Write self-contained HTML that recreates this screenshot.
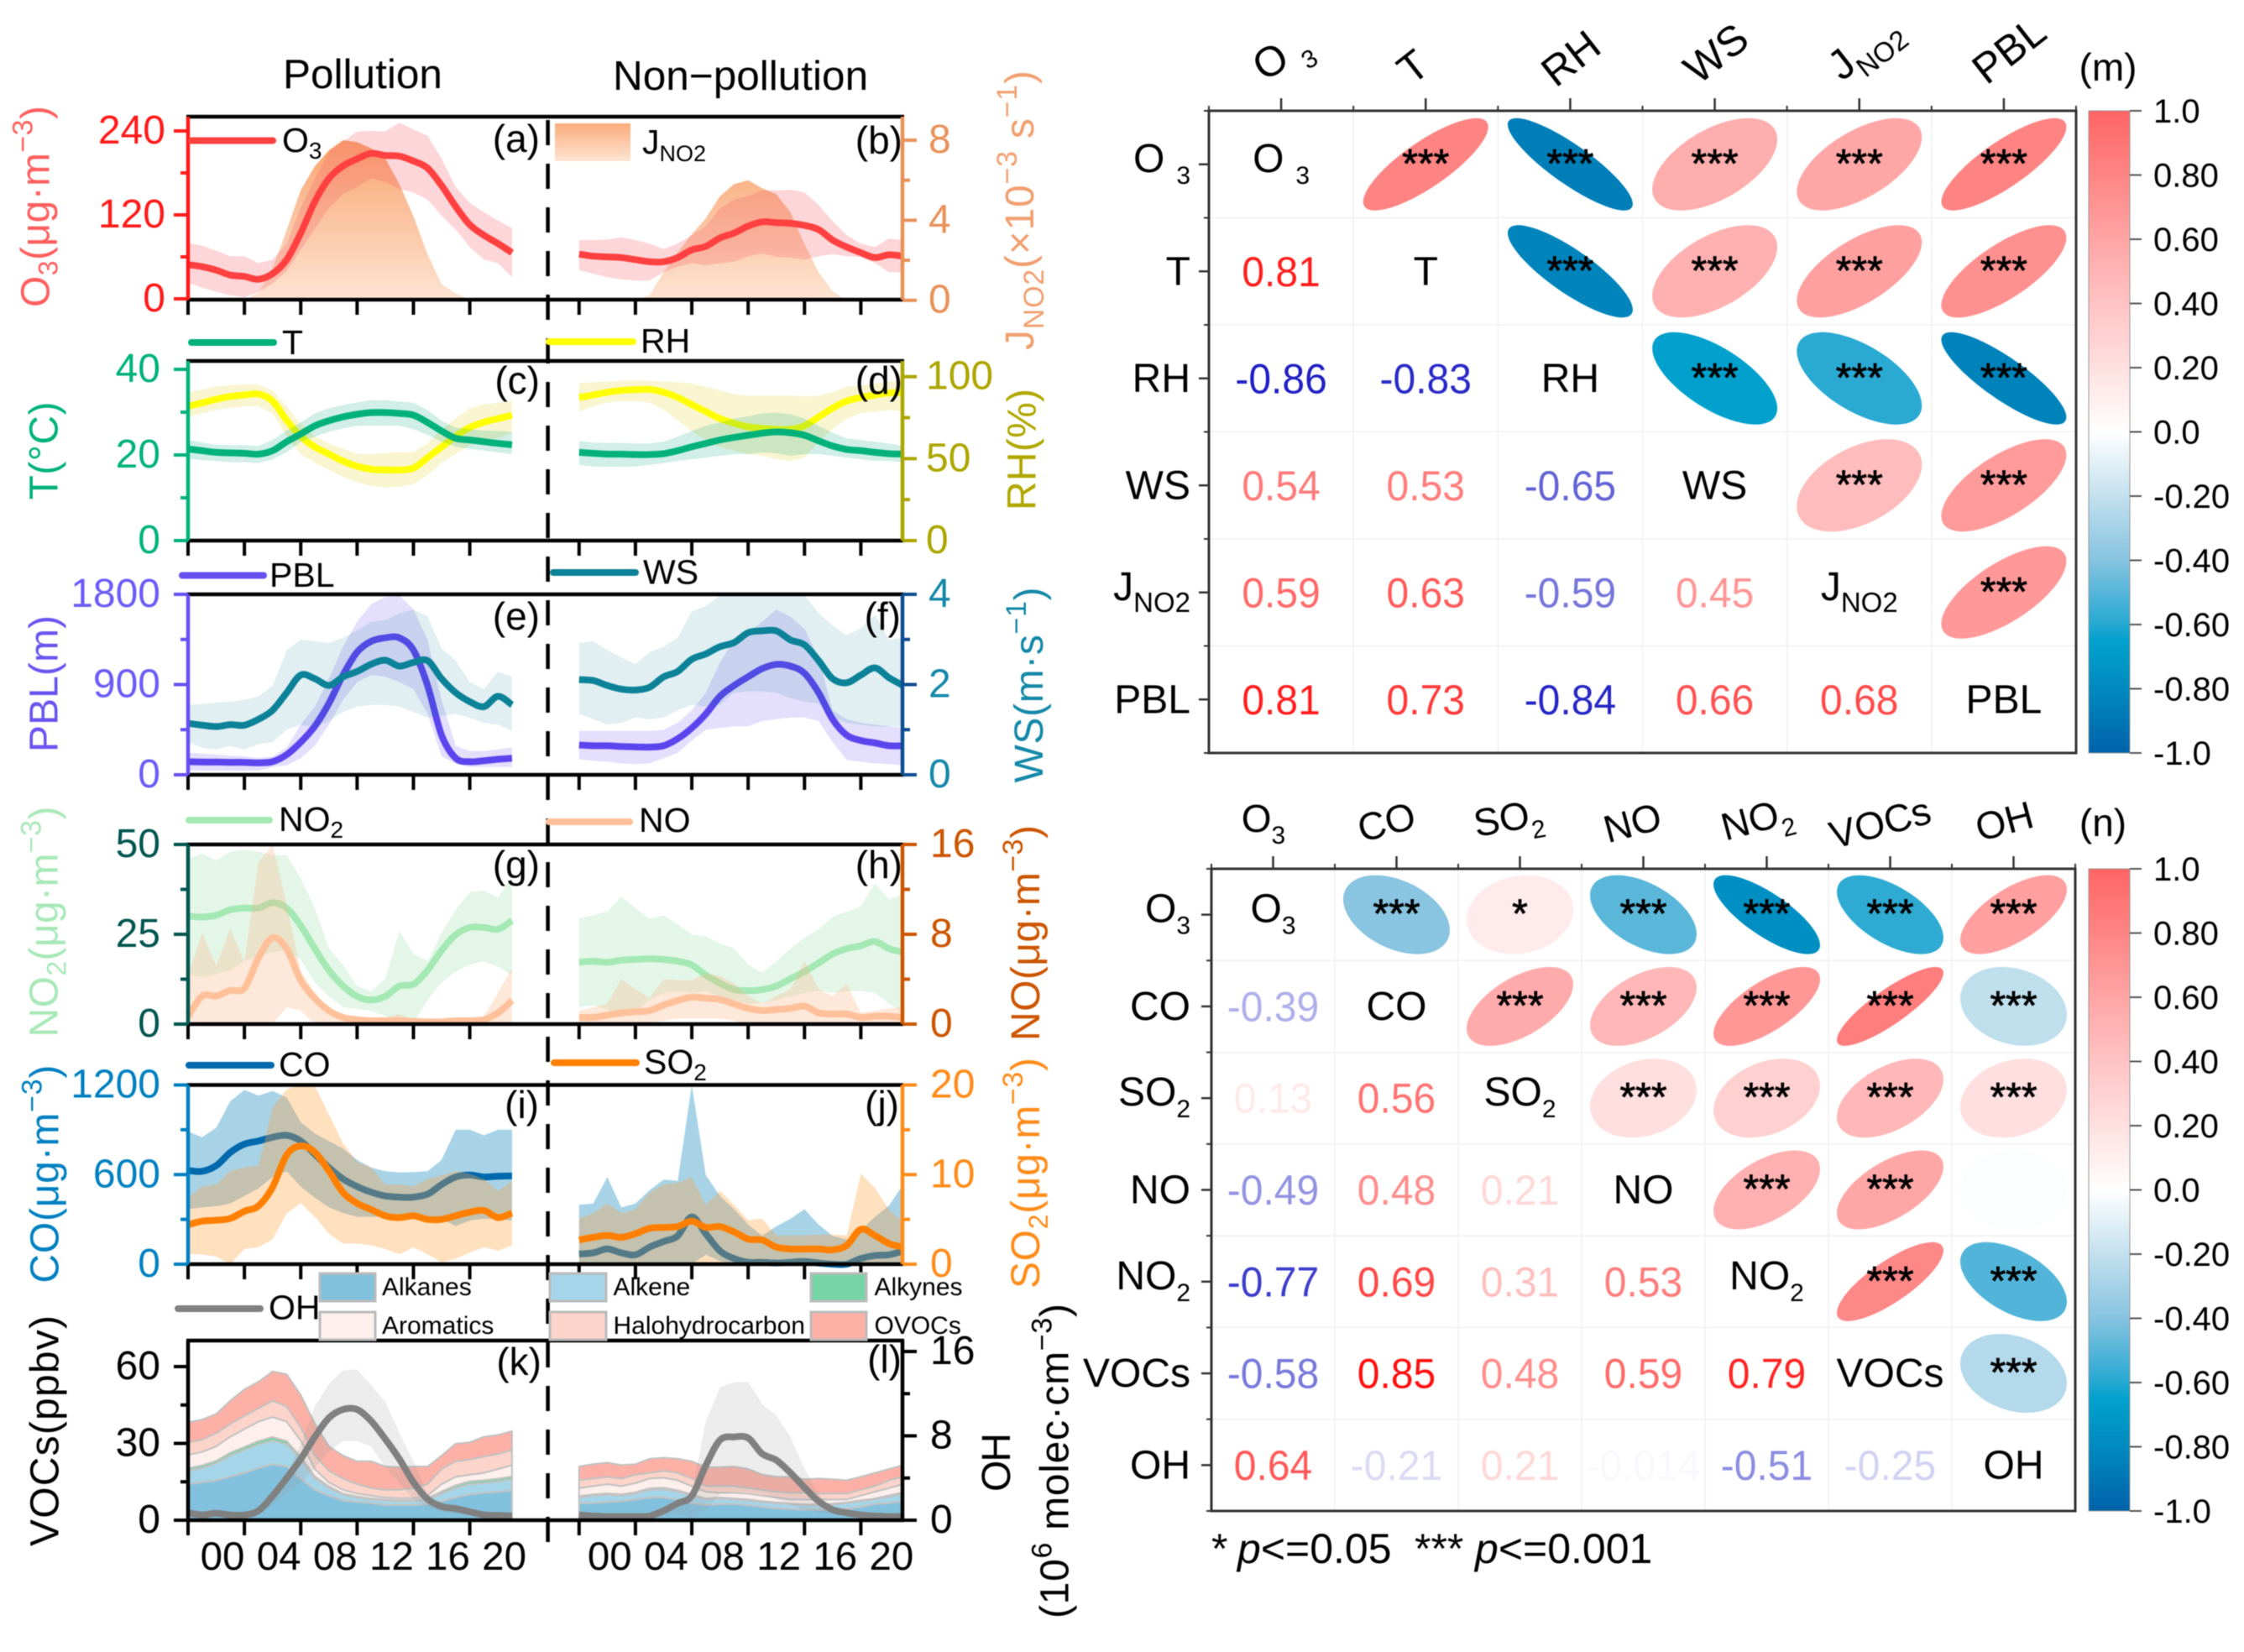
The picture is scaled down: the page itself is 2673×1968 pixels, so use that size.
<!DOCTYPE html>
<html lang="en">
<head>
<meta charset="utf-8">
<title>Pollution vs non-pollution diurnal profiles and correlation matrices</title>
<style>
html,body{margin:0;padding:0;background:#fff;}
svg{display:block;filter:blur(.6px);font-family:"Liberation Sans",sans-serif;}
</style>
</head>
<body>
<svg id="figure" xmlns="http://www.w3.org/2000/svg" width="2673" height="1968" viewBox="0 0 2673 1968">
<defs>
<linearGradient id="jSwatchGrad" x1="0" y1="0" x2="0" y2="1"><stop offset="0" stop-color="#fbad7c"/><stop offset="1" stop-color="#fde4d3"/></linearGradient>
<linearGradient id="jGradA" gradientUnits="userSpaceOnUse" x1="0" y1="150" x2="0" y2="357"><stop offset="0" stop-color="#f99f66"/><stop offset="1" stop-color="#fde4d3"/></linearGradient>
<linearGradient id="cbarGrad" x1="0" y1="0" x2="0" y2="1"></linearGradient>
</defs>
<rect x="0" y="0" width="2673" height="1968" fill="#fff"/>
<g id="marks"></g>
<g id="corr"></g>

<g font-size="49.5" fill="#000">
<text x="337" y="105">Pollution</text>
<text x="730" y="107">Non−pollution</text>
</g>

<line x1="652.6" y1="143" x2="652.6" y2="1849" stroke="#000" stroke-width="4.5" stroke-dasharray="30 22"/>

<g font-size="46" fill="#000" text-anchor="end">
<text x="643" y="181">(a)</text>
<text x="1075" y="183">(b)</text>
<text x="643" y="469">(c)</text>
<text x="1075" y="469">(d)</text>
<text x="643" y="750">(e)</text>
<text x="1073" y="750">(f)</text>
<text x="643" y="1046">(g)</text>
<text x="1075" y="1046">(h)</text>
<text x="642" y="1332">(i)</text>
<text x="1071" y="1332">(j)</text>
<text x="645" y="1638">(k)</text>
<text x="1074" y="1635">(l)</text>
</g>

<g stroke-linecap="round" stroke-width="8" font-size="41" fill="#000">
<line x1="228" y1="167.5" x2="325" y2="167.5" stroke="#ff4040"/>
<text x="336" y="181" stroke="none">O<tspan font-size="28" dy="8">3</tspan></text>
<rect x="661" y="147" width="90" height="45" fill="url(#jSwatchGrad)" stroke="none"/>
<text x="765" y="183" stroke="none">J<tspan font-size="27" dy="9">NO2</tspan></text>
<line x1="228" y1="408" x2="326" y2="408" stroke="#00b27a"/>
<text x="336" y="422" stroke="none">T</text>
<line x1="654" y1="407" x2="754" y2="407" stroke="#ffff00"/>
<text x="763" y="420" stroke="none">RH</text>
<line x1="217" y1="685.5" x2="314" y2="685.5" stroke="#6650f0"/>
<text x="321" y="699" stroke="none">PBL</text>
<line x1="659" y1="682" x2="757" y2="682" stroke="#0b8298"/>
<text x="766" y="695.5" stroke="none">WS</text>
<line x1="225" y1="977" x2="321" y2="977" stroke="#a4e8b4"/>
<text x="332" y="990" stroke="none">NO<tspan font-size="28" dy="8">2</tspan></text>
<line x1="654" y1="979" x2="750" y2="979" stroke="#ffc09a"/>
<text x="761" y="991" stroke="none">NO</text>
<line x1="225" y1="1269" x2="323" y2="1269" stroke="#0068ac"/>
<text x="332" y="1282" stroke="none">CO</text>
<line x1="660" y1="1266" x2="758" y2="1266" stroke="#ff8000"/>
<text x="767" y="1279" stroke="none">SO<tspan font-size="28" dy="8">2</tspan></text>
<line x1="212" y1="1559" x2="310" y2="1559" stroke="#808080"/>
<text x="320" y="1571.5" stroke="none">OH</text>
</g>

<g font-size="30" fill="#000" stroke="none">
<rect x="381" y="1517" width="66" height="33" fill="#82c1de" stroke="#bbb" stroke-width="3"/>
<text x="455" y="1543">Alkanes</text>
<rect x="381" y="1563" width="66" height="33" fill="#fdf0ec" stroke="#bbb" stroke-width="3"/>
<text x="455" y="1589">Aromatics</text>
<rect x="655" y="1517" width="67" height="33" fill="#a5d5e9" stroke="#bbb" stroke-width="3"/>
<text x="730.5" y="1543">Alkene</text>
<rect x="655" y="1563" width="67" height="33" fill="#fdd4ca" stroke="#bbb" stroke-width="3"/>
<text x="730.5" y="1589">Halohydrocarbon</text>
<rect x="966" y="1517" width="66" height="33" fill="#77d4a4" stroke="#bbb" stroke-width="3"/>
<text x="1041.5" y="1543">Alkynes</text>
<rect x="966" y="1563" width="66" height="33" fill="#fdb0a5" stroke="#bbb" stroke-width="3"/>
<text x="1041.5" y="1589">OVOCs</text>
</g>

<g font-size="48">
<text transform="translate(58.5,366) rotate(-90)" fill="#ff5f5f" textLength="240" lengthAdjust="spacing">O<tspan font-size="32" dy="10">3</tspan><tspan dy="-10">(μg·m</tspan><tspan font-size="34" dy="-20">−3</tspan><tspan dy="20">)</tspan></text>
<text transform="translate(1231,417) rotate(-90)" fill="#f0a070" textLength="333" lengthAdjust="spacing">J<tspan font-size="34" dy="12">NO2</tspan><tspan dy="-12">(×10</tspan><tspan font-size="34" dy="-20">−3</tspan><tspan dy="20"> s</tspan><tspan font-size="34" dy="-20">−1</tspan><tspan dy="20">)</tspan></text>
<text transform="translate(68.5,595.5) rotate(-90)" fill="#00b27a" textLength="117" lengthAdjust="spacing">T(°C)</text>
<text transform="translate(1233.6,608) rotate(-90)" fill="#b0a800" textLength="145" lengthAdjust="spacing">RH(%)</text>
<text transform="translate(68.5,896) rotate(-90)" fill="#6a55f0" textLength="163" lengthAdjust="spacing">PBL(m)</text>
<text transform="translate(1242,932.5) rotate(-90)" fill="#1488a8" textLength="233" lengthAdjust="spacing">WS(m·s<tspan font-size="34" dy="-20">−1</tspan><tspan dy="20">)</tspan></text>
<text transform="translate(68.5,1235.5) rotate(-90)" fill="#a8e8b8" textLength="275" lengthAdjust="spacing">NO<tspan font-size="32" dy="10">2</tspan><tspan dy="-10">(μg·m</tspan><tspan font-size="34" dy="-20">−3</tspan><tspan dy="20">)</tspan></text>
<text transform="translate(1238,1240) rotate(-90)" fill="#cc5500" textLength="257" lengthAdjust="spacing">NO(μg·m<tspan font-size="34" dy="-20">−3</tspan><tspan dy="20">)</tspan></text>
<text transform="translate(69.4,1528.6) rotate(-90)" fill="#0080c0" textLength="260" lengthAdjust="spacing">CO(μg·m<tspan font-size="34" dy="-20">−3</tspan><tspan dy="20">)</tspan></text>
<text transform="translate(1238,1535) rotate(-90)" fill="#ff8c1a" textLength="275" lengthAdjust="spacing">SO<tspan font-size="32" dy="10">2</tspan><tspan dy="-10">(μg·m</tspan><tspan font-size="34" dy="-20">−3</tspan><tspan dy="20">)</tspan></text>
<text transform="translate(69.4,1842) rotate(-90)" fill="#000" textLength="275" lengthAdjust="spacing">VOCs(ppbv)</text>
<text transform="translate(1203,1777) rotate(-90)" fill="#000" textLength="70" lengthAdjust="spacing">OH</text>
<text transform="translate(1272.6,1928) rotate(-90)" fill="#000" textLength="375" lengthAdjust="spacing">(10<tspan font-size="34" dy="-20">6</tspan><tspan dy="20"> molec·cm</tspan><tspan font-size="34" dy="-20">−3</tspan><tspan dy="20">)</tspan></text>
</g>

<g font-size="46" fill="#000">
<text x="2511" y="96" text-anchor="middle">(m)</text>
<text x="2505" y="996" text-anchor="middle">(n)</text>
<text x="1443" y="1862" font-size="50">*</text>
<text x="1474" y="1862" font-size="50"><tspan font-style="italic">p</tspan>&lt;=0.05</text>
<text x="1685" y="1862" font-size="50">***</text>
<text x="1757" y="1862" font-size="50"><tspan font-style="italic">p</tspan>&lt;=0.001</text>
</g>
</svg>

<script>
// ---------- shared axis data ----------
const hours = [0,1,2,3,4,5,6,7,8,9,10,11,12,13,14,15,16,17,18,19,20,21,22,23];
const hourTicks = [0,4,8,12,16,20];
const hourTickLabels = ['00','04','08','12','16','20'];

const o3Ticks = [0,120,240];
const jTicks = [0,4,8];
const tTicks = [0,20,40];
const rhTicks = [0,50,100];
const pblTicks = [0,900,1800];
const wsTicks = [0,2,4];
const no2Ticks = [0,25,50];
const noTicks = [0,8,16];
const coTicks = [0,600,1200];
const so2Ticks = [0,10,20];
const vocTicks = [0,30,60];
const ohTicks = [0,8,16];

// ---------- (a) / (b) ----------
const o3Pol = [49,46,41,34,32,28,36,56,94,139,172,190,200,208,205,204,197,187,162,132,106,91,79,66];
const o3PolHigh = [80,76,69,61,61,51,56,79,130,172,210,225,239,240,239,252,242,233,200,160,137,124,112,101];
const o3PolLow = [23,16,10,5,2,10,22,40,70,100,130,150,160,172,167,157,152,142,119,99,74,56,51,31];
const jPol = [0,0,0,0,0,0.4,1.6,3.5,5.5,6.7,7.5,8,7.9,7.6,7.1,5.8,4.2,2.3,0.8,0.35,0,0,0,0];
const o3Non = [64,61,60,59,56,53,53,59,70,75,87,94,104,110,109,108,105,99,84,74,66,59,63,61];
const o3NonHigh = [84,84,85,88,84,79,71,79,91,104,129,142,147,155,155,156,152,134,111,91,79,74,86,84];
const o3NonLow = [41,36,31,28,26,26,38,46,51,48,51,53,61,65,60,59,56,61,64,61,60,51,38,38];
const jNon = [0,0,0,0,0,0.25,1.4,2.4,3.3,4.1,5.2,5.8,6,5.6,5.3,4.4,2.8,1.4,0.45,0,0,0,0,0];

// ---------- (c) / (d) ----------
const tPol = [21.4,21,20.6,20.5,20.4,20.2,21,23.1,24.9,26.8,28,28.9,29.5,29.9,29.9,29.7,29.3,27.6,25.6,23.9,23.5,23.1,22.7,22.4];
const tPolHigh = [23.5,22.9,22.4,22.3,22.3,22.1,23.5,25.7,27.6,29.7,30.9,31.7,32.3,32.8,32.8,32.5,32.2,30.5,28,26.4,26,25.7,25.6,25.4];
const tPolLow = [19.1,18.8,18.6,18.3,18.3,18.1,19,20.6,23.1,24.3,25.4,26.2,26.8,26.8,26.8,26.8,26,24.7,23.1,21.9,21.4,21,20.6,20.2];
const rhPol = [81.9,84,86.2,87.9,88.8,89.4,85.1,73.3,63.6,57.1,52.8,48.5,45.3,43.5,43.1,43.1,44.2,50.6,57.1,63.6,69,72.2,74.4,76.5];
const rhPolHigh = [90.5,92.2,93.8,94.8,95.3,95.3,91.6,81.9,71.1,63.6,59.3,56,52.8,52.8,53.4,53.9,53.9,59.3,67.9,74.4,80.8,83,84,85.1];
const rhPolLow = [75.4,77.6,79.7,80.8,81.9,81.9,77.6,63.6,52.8,47.4,43.1,38.8,35.6,33.4,32.3,32.8,34.5,39.9,47.4,52.8,58.2,60.3,62.5,65.7];
const tNon = [20.6,20.4,20.2,20.2,20.1,20.1,20.3,21,21.9,22.7,23.5,24.1,24.6,25.1,25.4,25.2,24.6,23.3,22.1,21.3,21,20.6,20.3,20.2];
const tNonHigh = [23.3,22.9,22.8,22.8,22.7,22.7,23.1,24.3,25.6,26.8,27.6,28.5,29,29.7,29.9,29.5,28.5,26.8,25.2,23.9,23.5,23.1,22.7,22.1];
const tNonLow = [17.7,17.3,17.2,17.2,17.3,17.7,18.1,18.6,19,19.4,19.8,20.2,20.2,20.6,20.4,19.8,20.2,20.2,19.8,19.4,19,18.6,18.6,18.3];
const rhNon = [87.3,88.8,90.5,91.6,92,92.2,90.5,87.3,83,78.7,74.4,71.6,69.4,68.5,67.9,67.9,70,75.4,80.8,85.1,87.3,88.8,90,90.5];
const rhNonHigh = [95.9,96.6,97,97.4,97.8,97.4,97,96.6,95.9,93.8,91.6,89.4,88.4,88.4,88.4,88.4,87.9,88.4,90.5,93.8,94.8,95.9,97,97];
const rhNonLow = [78.7,81.9,84,85.1,85.1,84,79.7,73.3,66.8,61.4,57.1,54.9,52.8,51.7,49.6,48.5,50.6,60.3,67.9,74.4,77.6,78.7,79.7,78.7];

// ---------- (e) / (f) ----------
const pblPol = [131,127,127,124,124,120,131,201,325,484,713,995,1224,1331,1366,1366,1243,890,395,166,131,141,155,166];
const pblPolHigh = [219,212,201,191,184,166,184,272,501,678,960,1278,1525,1701,1772,1790,1649,1348,748,289,237,237,254,272];
const pblPolLow = [42,42,42,42,42,42,78,95,166,289,501,748,925,995,978,925,854,607,184,113,78,78,78,78];
const wsPol = [1.14,1.10,1.07,1.11,1.10,1.23,1.43,1.82,2.21,2.13,1.98,2.17,2.29,2.45,2.54,2.41,2.49,2.53,2.13,1.82,1.62,1.51,1.74,1.55];
const wsPolHigh = [1.55,1.57,1.60,1.62,1.66,1.74,1.98,2.76,3.0,2.96,2.92,3.04,3.2,3.39,3.43,3.58,3.66,3.51,2.8,2.53,2.05,1.9,2.29,2.17];
const wsPolLow = [0.72,0.6,0.56,0.64,0.56,0.68,0.72,1,1.11,1.04,1.19,1.39,1.51,1.55,1.55,1.51,1.39,1.27,1.31,1.35,1.27,1.15,1.11,0.97];
const pblNon = [297,290,290,283,279,276,290,360,466,607,783,890,978,1059,1101,1084,1013,819,554,395,342,318,290,290];
const pblNonHigh = [438,438,438,438,438,438,448,519,642,819,1119,1348,1419,1525,1649,1578,1454,1172,642,554,519,501,484,466];
const pblNonLow = [155,141,131,113,106,113,166,219,342,448,466,484,484,537,554,572,572,537,325,148,131,113,106,95];
const wsNon = [2.11,2.09,1.98,1.9,1.88,1.94,2.17,2.29,2.56,2.68,2.84,2.93,3.15,3.19,3.19,2.99,2.88,2.53,2.13,2.04,2.21,2.37,2.15,1.98];
const wsNonHigh = [2.92,2.96,2.76,2.6,2.45,2.72,2.84,3.04,3.62,3.74,3.98,3.98,3.98,3.98,3.98,3.98,3.98,3.58,3.31,3.09,3.25,3.55,3.0,3.03];
const wsNonLow = [1.35,1.23,1.11,1.15,1.27,1.23,1.27,1.43,1.55,1.51,1.55,1.82,1.85,1.85,1.82,1.70,1.62,1.58,1.27,1.15,1.11,1.07,1.07,1.07];

// ---------- (g) / (h) ----------
const no2Pol = [30.1,29.8,30.3,31.8,32.3,32.3,33.8,32.3,27.4,21,15,10.6,7.7,6.7,7.7,10.6,11.1,15,20.5,24.9,26.9,26.9,26.4,28.8];
const no2PolHigh = [46,47.5,45.5,48,48.5,48,47,47,40.6,32.3,21,16.5,10.6,9.1,12.6,25.9,19.5,17.5,25.4,31.8,36.7,37.2,35.2,41];
const no2PolLow = [14,13,14,15,17.5,19,20,20.5,18,11.5,7.7,4.7,4.2,3.7,2.3,0.8,0.3,6.7,11.6,14.6,16.5,17.5,16,13.6];
const noPol = [0.7,2.5,2.5,3,3.2,5.9,7.7,6.7,3.9,2.3,1.2,0.6,0.4,0.3,0.3,0.3,0.25,0.2,0.2,0.3,0.3,0.4,1,2.1];
const noPolHigh = [4.3,8.1,5.2,8.5,5.5,14.4,16,10.6,4.7,2.8,1.2,0.7,0.4,0.6,0.6,0.9,0.4,0.3,0.3,0.6,0.6,0.7,2.8,5];
const noPolLow = [0,0,0,0,0,0,0,1.5,1.2,0,0,0,0,0,0,0,0,0,0,0,0,0,0,0];
const no2Non = [17.2,17.5,17.2,17.8,18,18.2,18,17.5,16.5,13.6,11.4,9.6,9.3,9.6,10.6,12.6,14.6,17,19.5,21,21.8,23,21,20];
const no2NonHigh = [29.5,30.3,31.3,35.4,32.3,29.3,30.3,27.8,24.9,24.4,22.5,21,16.5,14.3,17.5,21,24,26.4,29.8,31.3,32.8,39.2,34.7,36.2];
const no2NonLow = [4.7,5.2,4.2,1.8,3.7,6.7,8.7,9.2,8.7,9.2,7.7,6.7,5.7,5.7,6.7,7.7,8.7,9.2,8.7,9.2,9.2,8.7,5.7,3.2];
const noNon = [0.6,0.6,0.8,1,1.1,1.2,1.7,2.1,2.4,2.3,2.2,1.8,1.4,1.2,1.3,1.4,1.6,1.0,0.9,0.9,0.6,0.7,0.7,0.6];
const noNonHigh = [1.2,1.5,1.8,4,3.1,2.3,4,3.9,3.9,4.5,4.3,3.6,2.5,1.8,2.5,3.1,5.6,3.1,2.5,3.6,1,1.2,1.4,1.5];
const noNonLow = [0,0,0,0.1,0,0.1,0.3,0.5,0.5,0.5,0.5,0.3,0,0,0,0,0,0,0,0,0,0,0,0];

// ---------- (i) / (j) ----------
const coPol = [627,622,660,748,804,825,850,863,825,736,647,571,520,482,457,449,449,469,533,584,597,584,589,591];
const coPolHigh = [888,850,914,1091,1167,1129,1160,1116,951,875,824,774,698,647,622,614,617,622,698,901,901,863,901,901];
const coPolLow = [368,380,388,406,457,507,583,622,520,444,381,343,317,317,317,317,312,317,304,254,292,304,304,292];
const so2Pol = [4.4,4.8,4.9,5.1,5.9,6.5,8.6,12.2,13.2,12.5,10.4,8,6.8,6.1,5.4,5.2,5.4,5,5,5.4,5.8,6,5.2,5.7];
const so2PolHigh = [7.4,8.7,8.9,10.4,10.8,11,17.5,19.5,20,19.9,16.7,13.5,11.4,10.8,8.9,8.9,8.7,9.5,9.9,10.4,10.1,9.5,8.2,9.3];
const so2PolLow = [1.1,1.1,0.85,0,1.7,1.9,2.75,5.7,6.8,5.3,3.4,2.3,2.3,2.1,1.7,1.1,1.9,1.1,0.2,0.6,1.3,1.9,1.5,2.1];
const coNon = [68,76,102,76,63,114,152,190,317,203,89,38,13,13,8,13,18,8,0,0,38,58,63,89];
const coNonHigh = [398,406,584,380,406,495,566,558,1200,596,457,368,266,190,254,304,368,266,190,165,228,317,393,533];
const coNonLow = [0,0,0,0,0,0,0,0,0,63,20,0,0,0,0,0,0,0,0,0,0,0,0,0];
const so2Non = [2.7,3,3.2,3,3.4,4,4.1,4.2,4.8,4.1,4.2,3.6,2.8,2.7,1.9,1.7,1.7,1.7,1.6,2.1,3.9,3.2,2.3,1.9];
const so2NonHigh = [5.1,5.7,6.8,5.7,6.1,8,8.9,9.1,9.7,6.6,8.2,6.6,4.9,5.1,3.2,3.2,3.2,3.3,3.3,3.2,10.1,8.5,6.1,4.7];
const so2NonLow = [0,0,0,0,0,0,0,0,0.2,0.2,0,0,0,0,0,0,0,0,0,0,0,0,0,0];

// ---------- (k) / (l) VOC components ----------
const alkanesPol = [14.1,14.8,15.5,17,18.5,20.4,21.9,21,16.3,11.9,9.6,7.7,7.1,6.7,5.9,5.9,5.9,6.3,7.4,8.9,10.1,10.7,11.1,11.6];
const alkenePol = [5.2,5.6,6.7,8.2,8.9,9.2,9.2,8.6,7.4,4.4,3,2.3,1.8,1.4,1.8,1.5,1.5,1.8,3,3.7,4,3.8,4,4.4];
const alkynesPol = [1,1,1,1.2,1.2,1.3,1.4,1.3,1.2,0.8,0.6,0.4,0.4,0.4,0.4,0.4,0.4,0.5,0.8,1,1.1,1.1,1.1,1.1];
const aromaticsPol = [5.2,5.3,5.7,6.2,7,7.6,7.8,7.6,6.2,2.9,1.6,1.5,1.1,1.1,0.8,0.8,0.8,1,2.9,3.4,2.6,2.9,3.8,4.4];
const haloPol = [4.9,4.7,5.1,5,5.1,5.2,6.4,5.9,5.2,5.2,4.5,4.4,3.7,3,3,3.3,4,4.5,5.9,6,5.9,6.4,5.9,5.9];
const ovocsPol = [7.8,7.9,7.5,9.1,10.4,10.4,11.4,12.6,12.6,12.6,9.6,8.9,8.9,10.4,9.1,8.8,8.4,6.9,5.2,6.9,6.7,7.7,7.4,7.4];
const ohPol = [0.7,0.5,0.65,0.5,0.5,0.9,2.3,4,5.8,7.9,9.7,10.5,10.5,9.4,7.7,5.8,3.6,2,1.3,1.1,0.8,0.5,0.45,0.4];
const ohPolHigh = [0.9,0.7,0.9,0.7,0.7,1.1,2.8,4.3,7.2,10.8,12.9,14.2,14.3,12.8,11.2,8.3,5.6,2.5,1.4,1.2,0.9,0.6,0.5,0.5];
const ohPolLow = [0.4,0.3,0.4,0.3,0.3,0.5,1.5,2.5,3.5,5,6.5,7.5,7.5,7,5,3.5,2,1.2,0.8,0.6,0.5,0.3,0.3,0.3];
const alkanesNon = [6.7,6.7,7.1,7.4,8.1,8.9,8.9,8.1,6.7,5.9,6.3,6.3,5.9,5.2,4.7,4.4,4.1,4.1,4.1,4.4,5.2,6.3,6.7,7.4];
const alkeneNon = [2.2,2.9,2.9,2.2,2.3,3,3.2,3,2.9,2.2,2.2,1.8,1.8,1.9,2,1.8,1.8,1.8,2.1,2.3,2.2,1.8,2.5,3];
const alkynesNon = [0.5,0.5,0.5,0.5,0.5,0.6,0.6,0.6,0.5,0.4,0.4,0.4,0.4,0.3,0.3,0.3,0.3,0.3,0.3,0.3,0.4,0.4,0.5,0.5];
const aromaticsNon = [3.2,3.2,3.6,3.2,3.6,3.8,3.9,3.9,3.2,2.6,1.8,2.2,2.3,2.2,1.9,1.6,1.9,1.9,1.6,1.1,1.8,2.6,2.9,3.2];
const haloNon = [3,3,2.9,3,3.3,2.2,2.7,2.9,3,2.2,2.6,2.6,2.2,2.3,2.2,2.6,2.6,2.3,2.3,2.3,2.3,2.2,3,2.9];
const ovocsNon = [5.4,5.6,5.5,5.2,4.1,5.5,5.1,5.5,6.7,7.4,7.4,7.7,7.4,5.9,5.9,6.3,5.3,5.9,5.6,5.2,5.1,5.2,4.4,4.5];
const ohNon = [0.5,0.4,0.35,0.35,0.35,0.4,0.9,1.6,2.3,5.2,7.6,7.9,7.8,6.3,5.7,4.5,3.1,1.8,1,0.7,0.5,0.4,0.35,0.35];
const ohNonHigh = [0.4,0.4,0.35,0.35,0.35,0.5,1,1.8,2.5,9.4,12.6,13.1,13.1,11,9.9,7.9,4.9,2.5,1.1,0.8,0.6,0.5,0.4,0.4];
const ohNonLow = [0.2,0.2,0.2,0.2,0.2,0.2,0.4,0.6,0.2,1,2.5,2.7,2.7,2.5,2,1.5,1,0.7,0.5,0.4,0.3,0.2,0.2,0.2];

// ---------- correlation matrices (lower triangle) ----------
const mLabels = [['O','3'],['T',''],['RH',''],['WS',''],['J','NO2'],['PBL','']];
const mCorr = [[1],[0.81,1],[-0.86,-0.83,1],[0.54,0.53,-0.65,1],[0.59,0.63,-0.59,0.45,1],[0.81,0.73,-0.84,0.66,0.68,1]];
const nLabels = [['O','3'],['CO',''],['SO','2'],['NO',''],['NO','2'],['VOCs',''],['OH','']];
const nCorr = [[1],[-0.39,1],[0.13,0.56,1],[-0.49,0.48,0.21,1],[-0.77,0.69,0.31,0.53,1],[-0.58,0.85,0.48,0.59,0.79,1],[0.64,-0.21,0.21,-0.014,-0.51,-0.25,1]];
const colorbarTicks = [1,0.8,0.6,0.4,0.2,0,-0.2,-0.4,-0.6,-0.8,-1];
const colorbarLabels = ['1.0','0.80','0.60','0.40','0.20','0.0','-0.20','-0.40','-0.60','-0.80','-1.0'];
const cmapValues = [1,0.8,0.6,0.4,0.2,0,-0.2,-0.4,-0.6,-0.65,-0.8,-1];
const cmapColors = ['#ff6464','#fe8585','#ffa5a5','#ffc3c3','#ffe0e0','#ffffff','#c3e0ee','#86c3e0','#25a8d2','#02a1cd','#008abf','#0062a9'];

// ---------- helpers ----------
const NS = 'http://www.w3.org/2000/svg';
const marks = document.getElementById('marks');
const corr = document.getElementById('corr');

function mk(parent, tag, name, attrs, content) {
  const el = document.createElementNS(NS, tag);
  
  
  for (const k in attrs) el.setAttribute(k, attrs[k]);
  if (content !== undefined) el.textContent = content;
  parent.appendChild(el);
  return el;
}
function linearY(y0, yMax, vMax) { return v => y0 - (v / vMax) * (y0 - yMax); }
const HOUR_PX = 16.78;
const xPol = h => 224 + h * HOUR_PX;
const xNon = h => 689.8 + h * HOUR_PX;

function drawBand(name, x, y, hi, lo, fill, opacity) {
  const up = hours.map((h, i) => x(h).toFixed(1) + ',' + y(hi[i]).toFixed(1));
  const dn = hours.map((h, i) => x(h).toFixed(1) + ',' + y(lo[i]).toFixed(1)).reverse();
  mk(marks, 'polygon', name, {points: up.concat(dn).join(' '), fill: fill, 'fill-opacity': opacity});
}
function drawLine(name, x, y, vals, color, width) {
  const px = hours.map((h, i) => [x(h), y(vals[i])]);
  let d = 'M' + px[0][0].toFixed(1) + ' ' + px[0][1].toFixed(1);
  for (let i = 0; i < px.length - 1; i++) {
    const p0 = px[Math.max(0, i - 1)], p1 = px[i], p2 = px[i + 1], p3 = px[Math.min(px.length - 1, i + 2)];
    const c1x = p1[0] + (p2[0] - p0[0]) / 6, c1y = p1[1] + (p2[1] - p0[1]) / 6;
    const c2x = p2[0] - (p3[0] - p1[0]) / 6, c2y = p2[1] - (p3[1] - p1[1]) / 6;
    d += 'C' + c1x.toFixed(1) + ' ' + c1y.toFixed(1) + ' ' + c2x.toFixed(1) + ' ' + c2y.toFixed(1) + ' ' + p2[0].toFixed(1) + ' ' + p2[1].toFixed(1);
  }
  mk(marks, 'path', name, {d: d, fill: 'none', stroke: color, 'stroke-width': width || 8, 'stroke-linejoin': 'round'});
}
function drawArea(name, x, y, vals, fill) {
  const up = hours.map((h, i) => x(h).toFixed(1) + ',' + y(vals[i]).toFixed(1));
  const base = [x(23).toFixed(1) + ',' + y(0).toFixed(1), x(0).toFixed(1) + ',' + y(0).toFixed(1)];
  mk(marks, 'polygon', name, {points: up.concat(base).join(' '), fill: fill});
}
function drawStack(prefix, x, y, layers) {
  const sum = hours.map(() => 0);
  layers.forEach(l => {
    const lower = sum.slice();
    l.vals.forEach((v, i) => { sum[i] += v; });
    const up = hours.map((h, i) => x(h).toFixed(1) + ',' + y(sum[i]).toFixed(1));
    const dn = hours.map((h, i) => x(h).toFixed(1) + ',' + y(lower[i]).toFixed(1)).reverse();
    mk(marks, 'polygon', prefix + '-' + l.name, {points: up.concat(dn).join(' '), fill: l.fill, stroke: '#c2c2c2', 'stroke-width': 2});
  });
}
function drawYAxis(name, side, xSpine, y, top, bottom, ticks, spineColor, labelColor, labelX) {
  const dir = side === 'left' ? -1 : 1;
  mk(marks, 'line', name + '-spine', {x1: xSpine, x2: xSpine, y1: top, y2: bottom, stroke: spineColor, 'stroke-width': 4.5});
  ticks.forEach((t, i) => {
    mk(marks, 'line', name + '-tick', {x1: xSpine, x2: xSpine + dir * 17, y1: y(t), y2: y(t), stroke: spineColor, 'stroke-width': 4});
    mk(marks, 'text', name + '-tick-label', {x: labelX, y: y(t) + 15, fill: labelColor, 'font-size': 48, 'text-anchor': side === 'left' ? 'end' : 'start'}, String(t));
    if (i < ticks.length - 1) {
      const m = (t + ticks[i + 1]) / 2;
      mk(marks, 'line', name + '-minor-tick', {x1: xSpine, x2: xSpine + dir * 9, y1: y(m), y2: y(m), stroke: spineColor, 'stroke-width': 4});
    }
  });
}
function drawFrame(name, top, bottom, showLabels) {
  mk(marks, 'line', name + '-top-axis', {x1: 222, x2: 1077, y1: top, y2: top, stroke: '#000', 'stroke-width': 4.5});
  mk(marks, 'line', name + '-bottom-axis', {x1: 222, x2: 1077, y1: bottom, y2: bottom, stroke: '#000', 'stroke-width': 4.5});
  hourTicks.forEach((h, i) => {
    mk(marks, 'line', name + '-x-tick', {x1: xPol(h), x2: xPol(h), y1: bottom, y2: bottom + 18, stroke: '#000', 'stroke-width': 4});
    mk(marks, 'line', name + '-x-tick', {x1: xNon(h), x2: xNon(h), y1: bottom, y2: bottom + 18, stroke: '#000', 'stroke-width': 4});
    if (showLabels) {
      mk(marks, 'text', 'x-tick-label', {x: xPol(h) + 41, y: 1870, 'font-size': 47.5, 'text-anchor': 'middle', fill: '#000'}, hourTickLabels[i]);
      mk(marks, 'text', 'x-tick-label', {x: xNon(h) + 36.5, y: 1870, 'font-size': 47.5, 'text-anchor': 'middle', fill: '#000'}, hourTickLabels[i]);
    }
  });
}

// ---------- scales ----------
const yO3 = linearY(356, 156, 240), yJ = linearY(357.7, 167, 8);
const yT = linearY(644, 440, 40), yRH = linearY(644, 448.7, 100);
const yPBL = linearY(923, 708, 1800), yWS = linearY(923, 708, 4);
const yNO2 = linearY(1220, 1006, 50), yNO = linearY(1220, 1006, 16);
const yCO = linearY(1506, 1292.5, 1200), ySO2 = linearY(1506, 1292.5, 20);
const yVOC = linearY(1811, 1628, 60), yOH = linearY(1811, 1610, 16);

const O3B = '#f55a64', TB = '#00a878', RHB = '#eee27a', PB = '#6650f0', WB = '#0b7f96', N2B = '#78d28c', NB = '#fab482', CB = '#2f95c6', SB = '#ffa03c', OB = '#969696';

// ---------- panel marks ----------
drawArea('jno2-area-a', xPol, yJ, jPol, 'url(#jGradA)');
drawArea('jno2-area-b', xNon, yJ, jNon, 'url(#jGradA)');
drawBand('o3-band-a', xPol, yO3, o3PolHigh, o3PolLow, O3B, 0.25);
drawBand('o3-band-b', xNon, yO3, o3NonHigh, o3NonLow, O3B, 0.25);
drawLine('o3-line-a', xPol, yO3, o3Pol, '#ff4040');
drawLine('o3-line-b', xNon, yO3, o3Non, '#ff4040');

drawBand('rh-band-c', xPol, yRH, rhPolHigh, rhPolLow, RHB, 0.35);
drawLine('rh-line-c', xPol, yRH, rhPol, '#ffff00');
drawBand('rh-band-d', xNon, yRH, rhNonHigh, rhNonLow, RHB, 0.35);
drawLine('rh-line-d', xNon, yRH, rhNon, '#ffff00');
drawBand('t-band-c', xPol, yT, tPolHigh, tPolLow, TB, 0.18);
drawLine('t-line-c', xPol, yT, tPol, '#00b27a');
drawBand('t-band-d', xNon, yT, tNonHigh, tNonLow, TB, 0.18);
drawLine('t-line-d', xNon, yT, tNon, '#00b27a');

drawBand('pbl-band-e', xPol, yPBL, pblPolHigh, pblPolLow, PB, 0.18);
drawLine('pbl-line-e', xPol, yPBL, pblPol, '#5d45ee');
drawBand('pbl-band-f', xNon, yPBL, pblNonHigh, pblNonLow, PB, 0.18);
drawLine('pbl-line-f', xNon, yPBL, pblNon, '#5d45ee');
drawBand('ws-band-e', xPol, yWS, wsPolHigh, wsPolLow, WB, 0.12);
drawLine('ws-line-e', xPol, yWS, wsPol, '#0b8298');
drawBand('ws-band-f', xNon, yWS, wsNonHigh, wsNonLow, WB, 0.12);
drawLine('ws-line-f', xNon, yWS, wsNon, '#0b8298');

drawBand('no2-band-g', xPol, yNO2, no2PolHigh, no2PolLow, N2B, 0.2);
drawLine('no2-line-g', xPol, yNO2, no2Pol, '#a4e8b4');
drawBand('no2-band-h', xNon, yNO2, no2NonHigh, no2NonLow, N2B, 0.2);
drawLine('no2-line-h', xNon, yNO2, no2Non, '#a4e8b4');
drawBand('no-band-g', xPol, yNO, noPolHigh, noPolLow, NB, 0.3);
drawLine('no-line-g', xPol, yNO, noPol, '#ffc09a');
drawBand('no-band-h', xNon, yNO, noNonHigh, noNonLow, NB, 0.3);
drawLine('no-line-h', xNon, yNO, noNon, '#ffc09a');

drawBand('co-band-i', xPol, yCO, coPolHigh, coPolLow, CB, 0.42);
drawLine('co-line-i', xPol, yCO, coPol, '#0068ac');
drawBand('co-band-j', xNon, yCO, coNonHigh, coNonLow, CB, 0.42);
drawLine('co-line-j', xNon, yCO, coNon, '#0068ac');
drawBand('so2-band-i', xPol, ySO2, so2PolHigh, so2PolLow, SB, 0.33);
drawLine('so2-line-i', xPol, ySO2, so2Pol, '#ff8000');
drawBand('so2-band-j', xNon, ySO2, so2NonHigh, so2NonLow, SB, 0.33);
drawLine('so2-line-j', xNon, ySO2, so2Non, '#ff8000');

drawStack('voc-stack-k', xPol, yVOC, [
  {name: 'alkanes', vals: alkanesPol, fill: '#82c1de'},
  {name: 'alkene', vals: alkenePol, fill: '#a5d5e9'},
  {name: 'alkynes', vals: alkynesPol, fill: '#77d4a4'},
  {name: 'aromatics', vals: aromaticsPol, fill: '#fdf0ec'},
  {name: 'halohydrocarbon', vals: haloPol, fill: '#fdd4ca'},
  {name: 'ovocs', vals: ovocsPol, fill: '#fdb0a5'}
]);
drawStack('voc-stack-l', xNon, yVOC, [
  {name: 'alkanes', vals: alkanesNon, fill: '#82c1de'},
  {name: 'alkene', vals: alkeneNon, fill: '#a5d5e9'},
  {name: 'alkynes', vals: alkynesNon, fill: '#77d4a4'},
  {name: 'aromatics', vals: aromaticsNon, fill: '#fdf0ec'},
  {name: 'halohydrocarbon', vals: haloNon, fill: '#fdd4ca'},
  {name: 'ovocs', vals: ovocsNon, fill: '#fdb0a5'}
]);
drawBand('oh-band-k', xPol, yOH, ohPolHigh, ohPolLow, OB, 0.18);
drawLine('oh-line-k', xPol, yOH, ohPol, '#808080');
drawBand('oh-band-l', xNon, yOH, ohNonHigh, ohNonLow, OB, 0.18);
drawLine('oh-line-l', xNon, yOH, ohNon, '#808080');

// ---------- axes ----------
drawFrame('row-1', 139, 357, false);
drawFrame('row-2', 430, 644, false);
drawFrame('row-3', 708, 923, false);
drawFrame('row-4', 1006, 1220, false);
drawFrame('row-5', 1292.5, 1506, false);
drawFrame('row-6', 1597, 1811, true);

drawYAxis('o3-axis', 'left', 224, yO3, 139, 357, o3Ticks, '#ff1a1a', '#ff1a1a', 197);
drawYAxis('jno2-axis', 'right', 1075, yJ, 139, 357, jTicks, '#e8925a', '#e8925a', 1106);
drawYAxis('t-axis', 'left', 224, yT, 430, 644, tTicks, '#00b27a', '#00b27a', 191);
drawYAxis('rh-axis', 'right', 1075, yRH, 430, 644, rhTicks, '#aca600', '#aca600', 1103);
drawYAxis('pbl-axis', 'left', 224, yPBL, 708, 923, pblTicks, '#6650f0', '#6c5cf5', 191);
drawYAxis('ws-axis', 'right', 1075, yWS, 708, 923, wsTicks, '#0e4d8f', '#1488a8', 1106);
drawYAxis('no2-axis', 'left', 224, yNO2, 1006, 1220, no2Ticks, '#00564f', '#00564f', 191);
drawYAxis('no-axis', 'right', 1075, yNO, 1006, 1220, noTicks, '#cc5500', '#cc5500', 1108);
drawYAxis('co-axis', 'left', 224, yCO, 1292.5, 1506, coTicks, '#0080c0', '#0080c0', 191);
drawYAxis('so2-axis', 'right', 1075, ySO2, 1292.5, 1506, so2Ticks, '#ff8c1a', '#ff8c1a', 1108);
drawYAxis('vocs-axis', 'left', 224, yVOC, 1597, 1811, vocTicks, '#000', '#000', 191);
drawYAxis('oh-axis', 'right', 1075, yOH, 1597, 1811, ohTicks, '#000', '#000', 1108);

// ---------- correlation colours ----------
function hexToRgb(h) { return [1, 3, 5].map(i => parseInt(h.substr(i, 2), 16)); }
function cmap(r) {
  for (let i = 0; i < cmapValues.length - 1; i++) {
    if (r <= cmapValues[i] && r >= cmapValues[i + 1]) {
      const t = (cmapValues[i] - r) / (cmapValues[i] - cmapValues[i + 1]);
      const a = hexToRgb(cmapColors[i]), b = hexToRgb(cmapColors[i + 1]);
      return 'rgb(' + a.map((c, k) => Math.round(c + (b[k] - c) * t)).join(',') + ')';
    }
  }
  return '#fff';
}
function textColor(r) {
  if (r >= 0) {
    const t = Math.max(0.03, Math.min(1, Math.pow(r / 0.85, 1.3)));
    const g = Math.round(255 - 240 * t);
    return 'rgb(255,' + g + ',' + g + ')';
  }
  const t = Math.max(0.03, Math.min(1, Math.pow(-r / 0.86, 1.3)));
  const rg = Math.round(255 - 224 * t);
  return 'rgb(' + rg + ',' + rg + ',' + Math.round(255 - 60 * t) + ')';
}
const grad = document.getElementById('cbarGrad');
cmapValues.forEach((v, i) => {
  const s = document.createElementNS(NS, 'stop');
  s.setAttribute('offset', (1 - v) / 2);
  s.setAttribute('stop-color', cmapColors[i]);
  grad.appendChild(s);
});

function addLabel(name, parts, x, y, size, anchor, subDx, transform) {
  const attrs = {x: x, y: y, 'font-size': size, 'text-anchor': anchor, fill: '#000'};
  if (transform) attrs.transform = transform;
  const t = mk(corr, 'text', name, attrs);
  t.appendChild(document.createTextNode(parts[0]));
  if (parts[1]) {
    const s = document.createElementNS(NS, 'tspan');
    s.setAttribute('font-size', parts[1].length > 1 ? 33 : 30);
    s.setAttribute('dy', 14);
    if (parts[1].length === 1 && subDx) s.setAttribute('dx', subDx);
    s.textContent = parts[1];
    t.appendChild(s);
  }
}
function stars(r) {
  const a = Math.abs(r);
  if (a < 0.05) return '';
  return a < 0.15 ? '*' : '***';
}
function drawCorr(cfg) {
  const n = cfg.labels.length;
  const cw = (cfg.right - cfg.left) / n, rh = (cfg.bottom - cfg.top) / n;
  const cx = j => cfg.left + cw * (j + 0.5), cy = i => cfg.top + rh * (i + 0.5);
  for (let k = 1; k < n; k++) {
    mk(corr, 'line', cfg.id + '-grid-line', {x1: cfg.left + cw * k, x2: cfg.left + cw * k, y1: cfg.top, y2: cfg.bottom, stroke: '#f0f0f0', 'stroke-width': 1.5});
    mk(corr, 'line', cfg.id + '-grid-line', {x1: cfg.left, x2: cfg.right, y1: cfg.top + rh * k, y2: cfg.top + rh * k, stroke: '#f0f0f0', 'stroke-width': 1.5});
  }
  for (let k = 0; k <= n; k++) {
    mk(corr, 'line', cfg.id + '-minor-tick', {x1: cfg.left + cw * k, x2: cfg.left + cw * k, y1: cfg.top, y2: cfg.top - 6, stroke: '#333', 'stroke-width': 2});
    mk(corr, 'line', cfg.id + '-minor-tick', {x1: cfg.left, x2: cfg.left - 6, y1: cfg.top + rh * k, y2: cfg.top + rh * k, stroke: '#333', 'stroke-width': 2});
  }
  cfg.labels.forEach((lab, i) => {
    mk(corr, 'line', cfg.id + '-top-tick', {x1: cx(i), x2: cx(i), y1: cfg.top, y2: cfg.top - 15, stroke: '#333', 'stroke-width': 2.5});
    mk(corr, 'line', cfg.id + '-left-tick', {x1: cfg.left, x2: cfg.left - 12, y1: cy(i), y2: cy(i), stroke: '#333', 'stroke-width': 2.5});
    const off = lab[1] ? 9 : 16;
    addLabel(cfg.id + '-row-label', lab, 1418, cy(i) + off, 48, 'end', cfg.subDx);
    addLabel(cfg.id + '-diagonal-label', lab, cx(i), cy(i) + off, 48, 'middle', cfg.subDx);
    const tp = cfg.topLabels[i];
    addLabel(cfg.id + '-column-label', lab, tp[0], tp[1] + 14, cfg.topSize, 'middle', cfg.subDx, 'rotate(' + tp[2] + ' ' + tp[0] + ' ' + tp[1] + ')');
  });
  for (let i = 0; i < n; i++) {
    for (let j = 0; j < i; j++) {
      const r = cfg.corr[i][j];
      const label = Math.abs(r) < 0.1 ? String(r) : r.toFixed(2);
      const vt = mk(corr, 'text', cfg.id + '-value', {x: cx(j), y: cy(i) + 17.5, 'font-size': 50, 'text-anchor': 'middle', fill: textColor(r)}, label);
      const w = vt.getComputedTextLength();
      vt.setAttribute('textLength', (w * 0.96).toFixed(1));
      vt.setAttribute('lengthAdjust', 'spacingAndGlyphs');
      const d = Math.acos(r), pts = [];
      for (let s = 0; s < 72; s++) {
        const t = s / 72 * Math.PI * 2;
        pts.push((cx(i) + cfg.a * Math.cos(t + d / 2)).toFixed(1) + ',' + (cy(j) - cfg.b * Math.cos(t - d / 2)).toFixed(1));
      }
      mk(corr, 'polygon', cfg.id + '-ellipse', {points: pts.join(' '), fill: cmap(r)});
      const st = stars(r);
      if (st) mk(corr, 'text', cfg.id + '-significance', {x: cx(i), y: cy(j) + 15, 'font-size': 48, 'text-anchor': 'middle', fill: '#000', stroke: '#000', 'stroke-width': 0.8}, st);
    }
  }
  mk(corr, 'rect', cfg.id + '-frame', {x: cfg.left, y: cfg.top, width: cfg.right - cfg.left, height: cfg.bottom - cfg.top, fill: 'none', stroke: '#333', 'stroke-width': 3});
  mk(corr, 'rect', cfg.id + '-colorbar', {x: cfg.barX, y: cfg.top, width: 49, height: cfg.bottom - cfg.top, fill: 'url(#cbarGrad)', stroke: '#999', 'stroke-width': 1});
  colorbarTicks.forEach((v, i) => {
    const y = cfg.top + (1 - v) / 2 * (cfg.bottom - cfg.top);
    mk(corr, 'line', cfg.id + '-colorbar-tick', {x1: cfg.barX + 49, x2: cfg.barX + 63, y1: y, y2: y, stroke: '#555', 'stroke-width': 2});
    mk(corr, 'text', cfg.id + '-colorbar-label', {x: cfg.barX + 77, y: y + 14, 'font-size': 40, fill: '#000'}, colorbarLabels[i]);
  });
}
drawCorr({id: 'matrix-m', labels: mLabels, corr: mCorr, left: 1440, right: 2473, top: 132, bottom: 897, a: 74.5, b: 55, barX: 2488, subDx: 14, topSize: 50,
  topLabels: [[1528,68,-30],[1685,82,-38],[1873,72,-38],[2046,66,-38],[2222,58,-38],[2395,62,-38]]});
drawCorr({id: 'matrix-n', labels: nLabels, corr: nCorr, left: 1443, right: 2472, top: 1035, bottom: 1800, a: 63.5, b: 47, barX: 2488, subDx: 0, topSize: 46,
  topLabels: [[1505,977,0],[1652,981,-15],[1797,976,-10],[1945,982,-15],[2093,977,-15],[2240,982,-15],[2388,980,-15]]});
</script>
</body>
</html>
